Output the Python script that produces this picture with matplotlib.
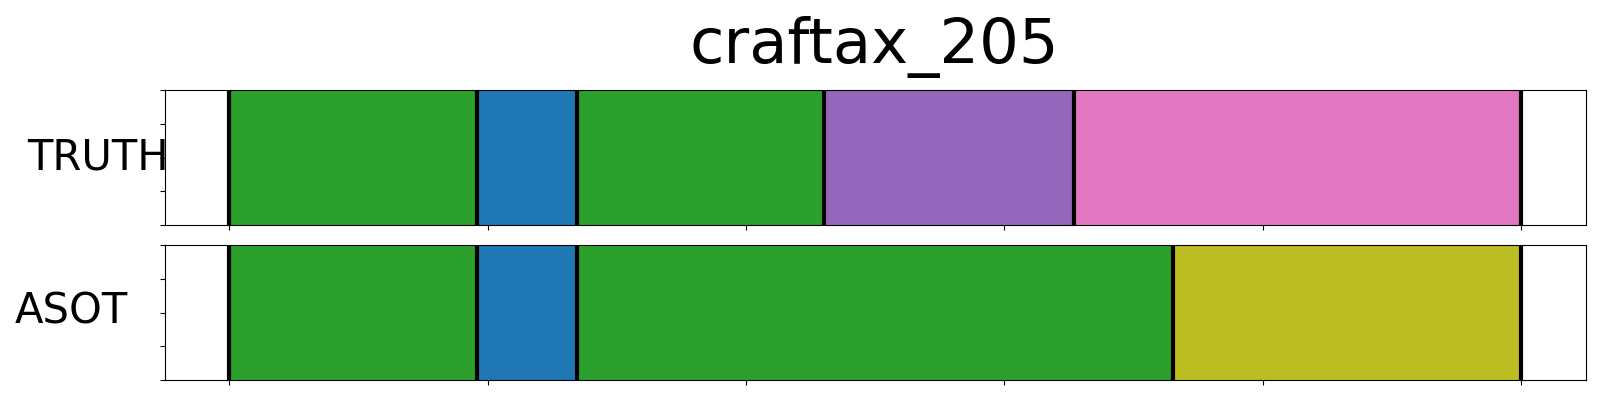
import matplotlib
import matplotlib.pyplot as plt

matplotlib.use("Agg")

TITLE = "craftax_205"
LENGTH = 250
ROWS = ["TRUTH", "ASOT"]

# bornes des segments et couleurs pour chaque ligne
TRUTH_BOUNDS = [0, 48, 67.3, 115, 163.5, 250]
TRUTH_COLORS = ["#2ca02c", "#1f77b4", "#2ca02c", "#9467bd", "#e377c2"]
ASOT_BOUNDS = [0, 48, 67.3, 182.7, 250]
ASOT_COLORS = ["#2ca02c", "#1f77b4", "#2ca02c", "#bcbd22"]

SEGMENTS = {"TRUTH": (TRUTH_BOUNDS, TRUTH_COLORS), "ASOT": (ASOT_BOUNDS, ASOT_COLORS)}
LABEL_X = {"TRUTH": 98 / 1600, "ASOT": 71 / 1600}
LABEL_Y = {"TRUTH": 1 - 157 / 400, "ASOT": 1 - 311 / 400}

fig = plt.figure(figsize=(16, 4), dpi=100)
boxes = [[0.103, 0.4375, 0.888, 0.3365], [0.103, 0.05, 0.888, 0.3375]]

for name, box in zip(ROWS, boxes):
	ax = fig.add_axes(box)
	bounds, colors = SEGMENTS[name]
	for start, end, color in zip(bounds[:-1], bounds[1:], colors):
		ax.axvspan(start, end, color=color, lw=0)
	for b in bounds:
		ax.axvline(b, color="black", lw=3)
	ax.set_xlim(-0.05 * LENGTH, 1.05 * LENGTH)
	ax.set_ylim(0, 1)
	ax.set_xticks(range(0, LENGTH + 1, 50))
	ax.set_yticks([0, 0.25, 0.5, 0.75, 1])
	ax.set_xticklabels([])
	ax.set_yticklabels([])
	fig.text(LABEL_X[name], LABEL_Y[name], name, fontsize=30, ha="center", va="center")

fig.text(874 / 1600, 1 - 63 / 400, TITLE, fontsize=45, ha="center", va="baseline")

fig.savefig("out.png")
